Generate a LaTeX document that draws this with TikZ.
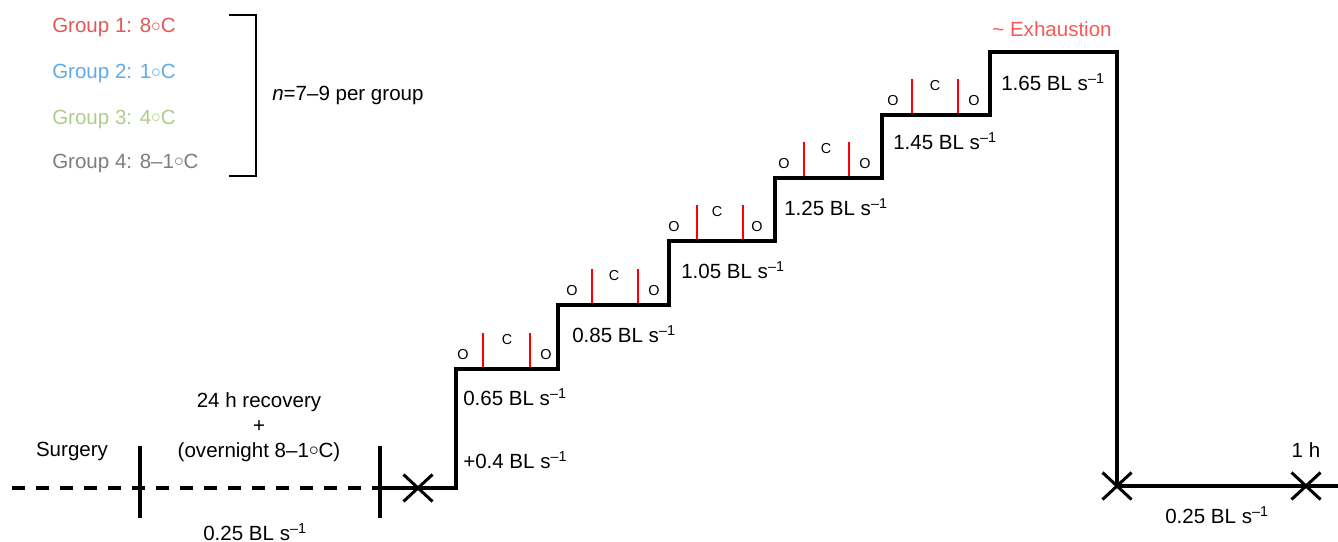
\documentclass[tikz,border=0pt]{standalone}
\usepackage{fontspec}
\setmainfont{Liberation Sans}
\usetikzlibrary{shapes.misc}
\definecolor{gone}{RGB}{226,88,88}
\definecolor{gtwo}{RGB}{95,170,235}
\definecolor{gthree}{RGB}{172,206,136}
\definecolor{gfour}{RGB}{125,125,125}
\definecolor{exh}{RGB}{250,88,88}
\newcommand{\bls}{BL s\textsuperscript{–1}}
\newcommand{\degC}{\raisebox{1.2pt}{$\circ$}C}
\begin{document}
\begin{tikzpicture}[x=0.75pt,y=-0.75pt,
  txt/.style={font=\fontsize{15.4}{18.75}\selectfont, inner sep=0pt},
  lbl/.style={txt, anchor=base west},
  ctr/.style={txt, anchor=base},
  valve/.style={font=\fontsize{10.8}{12}\selectfont, inner sep=0pt, anchor=center},
  stair/.style={line width=3pt, line join=miter},
  tick/.style={line width=3pt},
  dashline/.style={line width=3pt, dash pattern=on 9.75pt off 8.25pt},
  redmark/.style={draw=red, line width=1.8pt},
  bracketline/.style={line width=1.5pt},
  xmark/.style={cross out, draw, line width=2.25pt, minimum width=19.5pt, minimum height=18pt, inner sep=0pt}
]
\useasboundingbox (0,0) rectangle (1338,542);

% legend
\node[lbl, text=gone]   (g1) at (52,33)  {Group 1: 8\degC};
\node[lbl, text=gtwo]   (g2) at (52,79)  {Group 2: 1\degC};
\node[lbl, text=gthree] (g3) at (52,124) {Group 3: 4\degC};
\node[lbl, text=gfour]  (g4) at (52,168) {Group 4: 8–1\degC};
\coordinate (br1) at (229,15);
\coordinate (br2) at (256,15);
\coordinate (br3) at (256,176);
\coordinate (br4) at (229,176);
\draw[bracketline] (br1) -- (br2) -- (br3) -- (br4);
\node[lbl] (ngroup) at (272,100) {\textit{n}=7–9 per group};

% left timeline
\coordinate (dstart) at (12,488);
\coordinate (tk1) at (140,488);
\coordinate (tk2) at (380,488);
\coordinate (tk1t) at (140,446);
\coordinate (tk1b) at (140,518);
\coordinate (tk2t) at (380,446);
\coordinate (tk2b) at (380,518);
\draw[dashline] (dstart) -- (tk2);
\draw[tick] (tk1t) -- (tk1b);
\draw[tick] (tk2t) -- (tk2b);
\node[ctr] (surg) at (72,456) {Surgery};
\node[ctr, align=center, anchor=base] (recov) at (259,457) {24 h recovery\\+\\(overnight 8–1\degC)};
\node[ctr] (lspeed) at (255,540) {0.25 \bls};

% staircase
\coordinate (a0) at (456,488);
\coordinate (a1) at (456,369);
\coordinate (b0) at (558,369);
\coordinate (b1) at (558,305);
\coordinate (c0) at (669,305);
\coordinate (c1) at (669,241);
\coordinate (d0) at (775,241);
\coordinate (d1) at (775,178);
\coordinate (e0) at (882,178);
\coordinate (e1) at (882,115);
\coordinate (f0) at (990,115);
\coordinate (f1) at (990,52);
\coordinate (h0) at (1117,52);
\coordinate (h1) at (1117,486);
\coordinate (rend) at (1338,486);
\draw[stair] (tk2) -- (a0) -- (a1) -- (b0) -- (b1) -- (c0) -- (c1) -- (d0) -- (d1) -- (e0) -- (e1) -- (f0) -- (f1) -- (h0) -- (h1) -- (rend);

\node[xmark] (x1) at (418,488) {};
\node[xmark] (x2) at (1117,486) {};
\node[xmark] (x3) at (1306,486) {};

% speed labels
\node[lbl] (sp0) at (463,468) {+0.4 \bls};
\node[lbl] (sp1) at (463,405) {0.65 \bls};
\node[lbl] (sp2) at (572,342) {0.85 \bls};
\node[lbl] (sp3) at (681,278) {1.05 \bls};
\node[lbl] (sp4) at (784,215) {1.25 \bls};
\node[lbl] (sp5) at (893,149) {1.45 \bls};
\node[lbl] (sp6) at (1001,90) {1.65 \bls};
\node[ctr, text=exh] (exhaust) at (1052,37) {\textasciitilde\ Exhaustion};

% O C O markers
\foreach \i/\lev/\oa/\la/\cc/\lb/\ob in {1/369/463/483/507/530/546, 2/305/572/592/614/638/654, 3/241/674/697/717/743/757, 4/178/784/804/826/849/865, 5/115/893/912/935/958/974}{
  \node[valve] (oa\i) at (\oa,\lev-14) {O};
  \node[valve] (cc\i) at (\cc,\lev-29) {C};
  \node[valve] (ob\i) at (\ob,\lev-14) {O};
  \coordinate (lat\i) at (\la,\lev-36);
  \coordinate (lab\i) at (\la,\lev-2);
  \coordinate (lbt\i) at (\lb,\lev-36);
  \coordinate (lbb\i) at (\lb,\lev-2);
  \draw[redmark] (lat\i) -- (lab\i);
  \draw[redmark] (lbt\i) -- (lbb\i);
}

% right labels
\node[ctr] (onehour) at (1306,457) {1 h};
\node[ctr] (rspeed) at (1217,523) {0.25 \bls};
\end{tikzpicture}
\end{document}
